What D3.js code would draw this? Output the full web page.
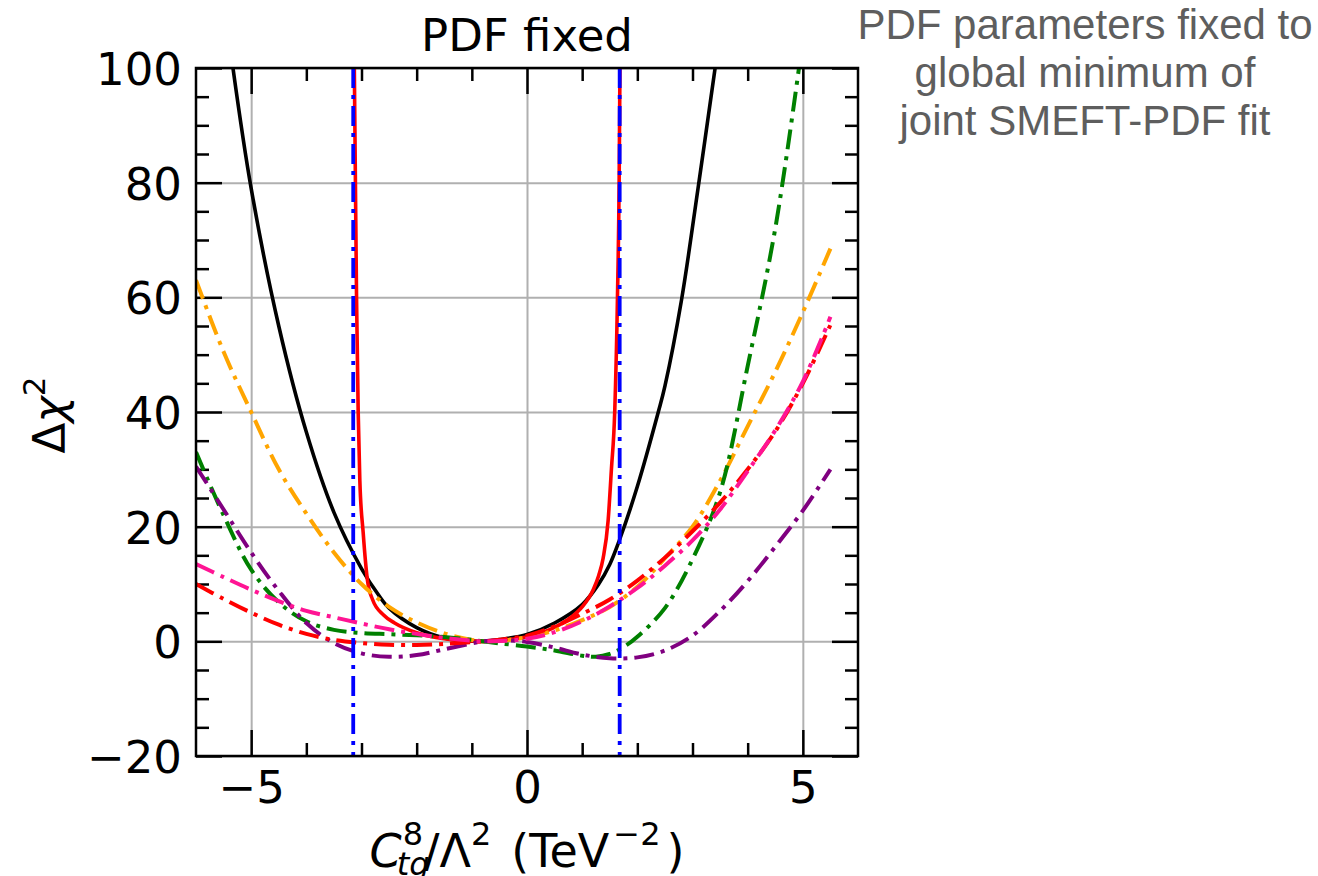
<!DOCTYPE html>
<html><head><meta charset="utf-8">
<script src="https://cdn.jsdelivr.net/npm/d3@7"></script>
<style>body{margin:0;background:#fff}svg{display:block}</style>
</head><body>
<svg id="chart" width="1318" height="876"></svg>
<script>
// ---------- data ----------
const xDomain = [-6, 6];
const yDomain = [-20, 100];
const xMajorTicks = [-5, 0, 5];
const xMinorTicks = [-4, -3, -2, -1, 1, 2, 3, 4];
const yMajorTicks = [-20, 0, 20, 40, 60, 80, 100];
const yMinorTicks = [-15, -10, -5, 5, 10, 15, 25, 30, 35, 45, 50, 55, 65, 70, 75, 85, 90, 95];
const titleText = "PDF fixed";
const noteLines = ["PDF parameters fixed to", "global minimum of", "joint SMEFT-PDF fit"];
const boundLines = [-3.15, 1.68];

const blackSolid = [[-5.33,100],[-5.0,79],[-4.5,55],[-4.0,36.5],[-3.5,22.5],[-3.0,12.7],[-2.7,8.2],[-2.5,5.8],[-2.0,2.4],[-1.5,0.6],[-1.0,0.05],[-0.8,0],[-0.5,0.3],[0,1.2],[0.5,3.2],[1.0,6.4],[1.3,10],[1.5,13.4],[1.67,17.5],[2.0,27],[2.38,40],[2.5,44.5],[2.8,59.5],[3.1,79],[3.41,100]];
const redSolid = [[-3.13,100],[-3.11,80],[-3.09,60],[-3.06,40],[-3.03,28],[-2.97,19],[-2.89,10.5],[-2.8,7.3],[-2.6,4.6],[-2.4,3.2],[-2.0,1.5],[-1.5,0.45],[-1.0,0.05],[-0.8,0],[-0.5,0.15],[0,0.8],[0.4,2.0],[0.8,4.2],[1.0,6.0],[1.2,9.0],[1.3,11.5],[1.38,14.5],[1.47,21],[1.53,30],[1.59,40],[1.64,60],[1.67,80],[1.685,100]];
const orangeDash = [[-6,63],[-5.5,50.5],[-5,40],[-4.5,30],[-4,22.3],[-3.5,15.5],[-3,10],[-2.5,6],[-2,3.3],[-1.5,1.4],[-1,0.25],[-0.8,0],[-0.5,0.1],[0,0.7],[0.5,1.9],[1,3.7],[1.5,6.0],[2,9.5],[2.5,14.5],[3,20],[3.5,28],[4,37.5],[4.5,47],[5,57.4],[5.5,68.5]];
const greenDash = [[-6,33],[-5.5,22],[-5,12.5],[-4.5,6.8],[-4,3.5],[-3.5,2.0],[-3,1.45],[-2.5,1.25],[-2,1.05],[-1.5,0.75],[-1,0.25],[-0.8,0],[-0.5,-0.35],[0,-0.9],[0.5,-1.6],[1,-2.5],[1.25,-2.7],[1.5,-2.2],[1.75,-1.0],[2,0.8],[2.5,5.8],[3,14.3],[3.5,26],[4,48],[4.5,72],[4.93,100]];
const purpleDash = [[-6,30.5],[-5.5,23],[-5,15.5],[-4.5,8.8],[-4,3.2],[-3.5,-0.3],[-3,-2.1],[-2.5,-2.7],[-2,-2.4],[-1.5,-1.4],[-1,-0.35],[-0.8,0],[-0.5,0.2],[0,-0.1],[0.5,-1.1],[1,-2.3],[1.5,-2.95],[2,-2.8],[2.5,-1.6],[3,1.0],[3.5,5.3],[4,10.5],[4.5,16.5],[5,22.8],[5.5,30]];
const redDash = [[-6,10],[-5.5,7.4],[-5,5.0],[-4.5,2.9],[-4,1.3],[-3.5,0.25],[-3,-0.3],[-2.5,-0.6],[-2,-0.65],[-1.5,-0.45],[-1,-0.12],[-0.8,0],[-0.5,0.3],[0,1.0],[0.5,2.6],[1,4.8],[1.5,7.3],[2,10.6],[2.5,14.6],[3,19.2],[3.5,24.2],[4,30],[4.5,36.6],[5,45],[5.5,55.2]];
const pinkDash = [[-6,13.5],[-5.5,11.2],[-5,9],[-4.5,7],[-4,5.3],[-3.5,4.2],[-3,3.1],[-2.5,2.1],[-2,1.3],[-1.5,0.6],[-1,0.12],[-0.8,0],[-0.5,0.05],[0,0.45],[0.5,1.6],[1,3.5],[1.5,6.1],[2,9.3],[2.5,13.2],[3,17.6],[3.5,23],[4,29.7],[4.5,36.8],[5,45.3],[5.5,56.6]];

const DASHDOT = "20,7,4,7";
const seriesList = [
  {data: blackSolid, color: "#000000", dash: null, width: 3.6, smooth: true},
  {data: redSolid, color: "#ff0000", dash: null, width: 3.6, smooth: false},
  {data: orangeDash, color: "#ffa500", dash: DASHDOT, width: 4, smooth: true},
  {data: greenDash, color: "#008000", dash: DASHDOT, width: 4, smooth: true},
  {data: purpleDash, color: "#800080", dash: DASHDOT, width: 4, smooth: true},
  {data: redDash, color: "#ff0000", dash: DASHDOT, width: 4, smooth: true},
  {data: pinkDash, color: "#ff1493", dash: DASHDOT, width: 4, smooth: true}
];

// ---------- layout ----------
const L = 196, R = 858, T = 68, B = 756;
const FONT = "'DejaVu Sans', sans-serif";
const x = d3.scaleLinear().domain(xDomain).range([L, R]);
const y = d3.scaleLinear().domain(yDomain).range([B, T]);
const svg = d3.select("#chart");
const fmt = d => (d < 0 ? "\u2212" + Math.abs(d) : String(d));

// grid
svg.append("g").attr("transform", `translate(0,${B})`)
  .call(d3.axisBottom(x).tickValues(xMajorTicks).tickSize(-(B - T)).tickFormat(""))
  .call(g => { g.select(".domain").remove(); g.selectAll("line").attr("stroke", "#b0b0b0").attr("stroke-width", 2); });
svg.append("g").attr("transform", `translate(${L},0)`)
  .call(d3.axisLeft(y).tickValues(yMajorTicks).tickSize(-(R - L)).tickFormat(""))
  .call(g => { g.select(".domain").remove(); g.selectAll("line").attr("stroke", "#b0b0b0").attr("stroke-width", 2); });

// ticks (inward)
function ticks(axis, tr, size, vals, withLabels) {
  const g = svg.append("g").attr("transform", tr)
    .call(axis.tickValues(vals).tickSize(-size).tickFormat(withLabels ? fmt : ""));
  g.select(".domain").remove();
  g.selectAll("line").attr("stroke", "#000").attr("stroke-width", 2.5);
  g.attr("font-family", FONT).attr("font-size", 45);
  return g;
}
const bx = ticks(d3.axisBottom(x), `translate(0,${B})`, 26, xMajorTicks, true);
bx.selectAll("text").attr("y", 47).attr("dy", null).attr("fill", "#000");
ticks(d3.axisBottom(x), `translate(0,${B})`, 13, xMinorTicks, false);
ticks(d3.axisTop(x), `translate(0,${T})`, 26, xMajorTicks, false);
ticks(d3.axisTop(x), `translate(0,${T})`, 13, xMinorTicks, false);
const ly = ticks(d3.axisLeft(y), `translate(${L},0)`, 26, yMajorTicks, true);
ly.selectAll("text").attr("x", -14).attr("dy", "0.364em").attr("fill", "#000");
ticks(d3.axisLeft(y), `translate(${L},0)`, 13, yMinorTicks, false);
ticks(d3.axisRight(y), `translate(${R},0)`, 26, yMajorTicks, false);
ticks(d3.axisRight(y), `translate(${R},0)`, 13, yMinorTicks, false);

// curves
svg.append("clipPath").attr("id", "clip").append("rect")
  .attr("x", L).attr("y", T).attr("width", R - L).attr("height", B - T);
const plot = svg.append("g").attr("clip-path", "url(#clip)");
const lineSmooth = d3.line().x(d => x(d[0])).y(d => y(d[1])).curve(d3.curveCatmullRom.alpha(0.5));
const lineMono = d3.line().x(d => x(d[0])).y(d => y(d[1])).curve(d3.curveMonotoneX);
seriesList.forEach(s => {
  plot.append("path").datum(s.data).attr("d", s.smooth ? lineSmooth : lineMono)
    .attr("fill", "none").attr("stroke", s.color).attr("stroke-width", s.width)
    .attr("stroke-dasharray", s.dash).attr("stroke-linejoin", "round");
});
boundLines.forEach(v => {
  plot.append("line").attr("x1", x(v)).attr("x2", x(v)).attr("y1", y(yDomain[1])).attr("y2", y(yDomain[0]))
    .attr("stroke", "#0000ff").attr("stroke-width", 3.8).attr("stroke-dasharray", DASHDOT);
});

// frame
svg.append("rect").attr("x", L).attr("y", T).attr("width", R - L).attr("height", B - T)
  .attr("fill", "none").attr("stroke", "#000").attr("stroke-width", 2.5);

// title
svg.append("text").attr("x", (L + R) / 2).attr("y", 51).attr("text-anchor", "middle")
  .attr("font-family", FONT).attr("font-size", 45).text(titleText);

// y label
const yl = svg.append("text").attr("transform", "translate(65,415) rotate(-90)")
  .attr("text-anchor", "middle").attr("font-family", FONT).attr("font-size", 45);
yl.append("tspan").text("\u0394");
yl.append("tspan").attr("font-style", "italic").text("\u03c7");
yl.append("tspan").attr("font-size", 31).attr("dy", -20).text("2");

// x label (mathtext-like layout)
const xg = svg.append("g").attr("font-family", FONT);
const pieces = [
  {t: "C", size: 46, italic: true, dy: 0},
  {t: "8", size: 32, dy: -22, kern: 1},
  {t: "tg", size: 32, italic: true, dy: 8, stack: true, shift: -6, trim: 40},
  {t: "/", size: 46, dy: 0, kern: 1},
  {t: "\u039b", size: 46, dy: 0},
  {t: "2", size: 32, dy: -22, kern: 0},
  {t: "(TeV", size: 46, dy: 0, kern: 20},
  {t: "\u22122", size: 32, dy: -22, kern: 4},
  {t: ")", size: 46, dy: 0, kern: 6}
];
let cur = 0, lastStart = 0;
pieces.forEach(p => {
  const t = xg.append("text").text(p.t).attr("font-size", p.size)
    .attr("font-style", p.italic ? "italic" : "normal").attr("y", p.dy);
  const w = t.node().getComputedTextLength();
  if (p.stack) {
    const sx = lastStart + (p.shift || 0);
    t.attr("x", sx);
    cur = Math.max(cur, sx + w - (p.trim || 0));
  } else {
    lastStart = cur + (p.kern || 0);
    t.attr("x", lastStart);
    cur = lastStart + w;
  }
});
xg.attr("transform", `translate(${(L + R) / 2 - cur / 2},867)`);

// side note
const note = svg.append("text").attr("font-family", "'Liberation Sans', Arial, Helvetica, sans-serif")
  .attr("font-size", 42).attr("fill", "#5e5e5e").attr("text-anchor", "middle");
noteLines.forEach((s, i) => note.append("tspan").attr("x", 1085).attr("y", 39 + i * 48).text(s));
</script>
</body></html>
